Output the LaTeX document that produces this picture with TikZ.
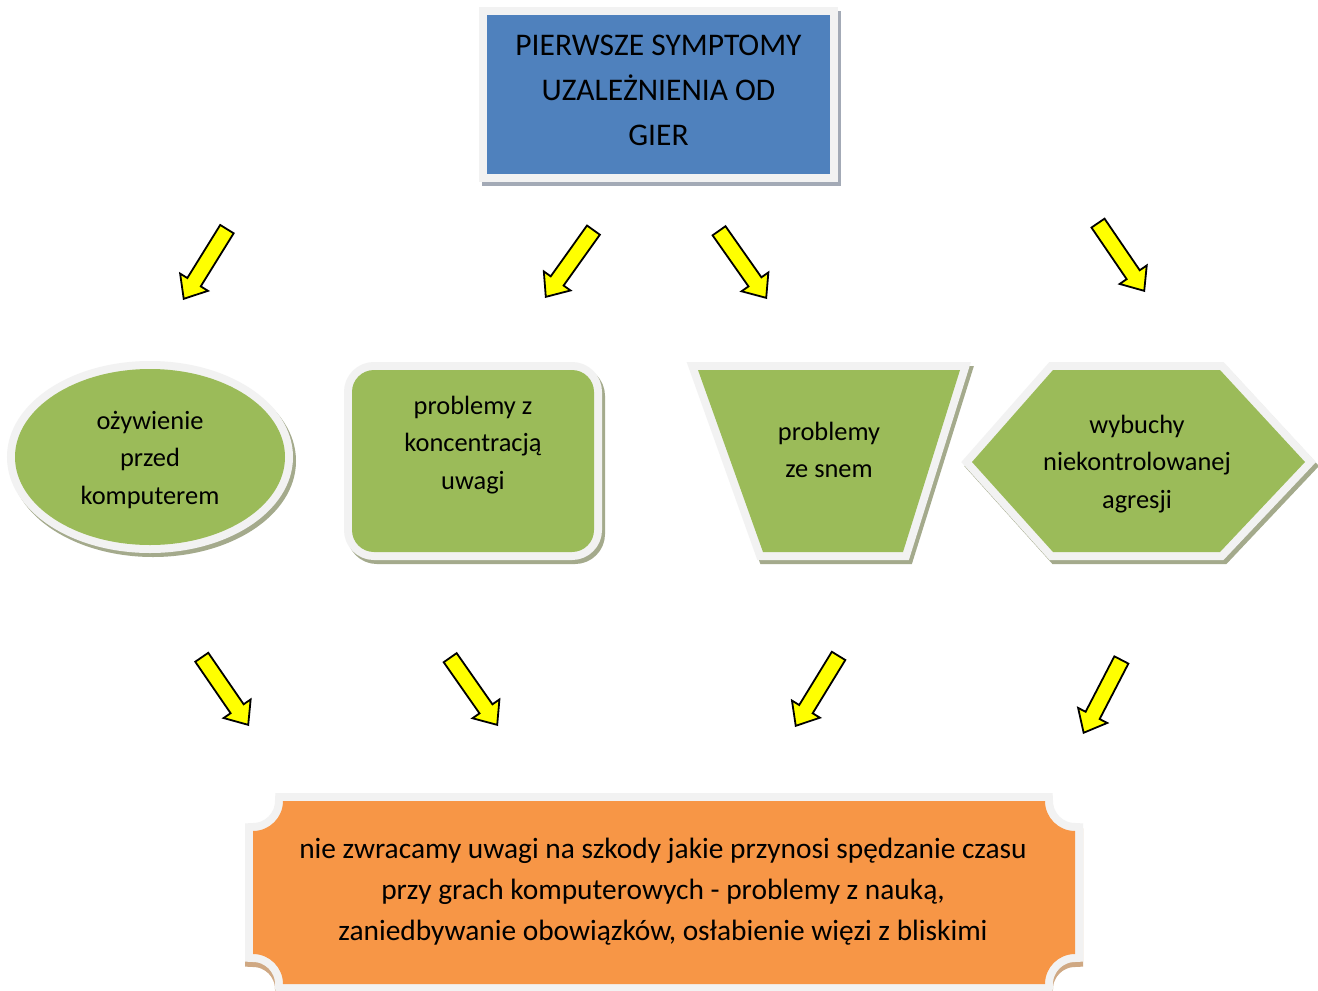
\documentclass[tikz,border=0pt]{standalone}
\usepackage{fontspec}
\setmainfont{Carlito}
\usetikzlibrary{shapes.arrows}
\definecolor{bluefill}{HTML}{4F81BD}
\definecolor{greenfill}{HTML}{9BBB59}
\definecolor{orangefill}{HTML}{F79646}
\definecolor{rimgray}{HTML}{F2F2F2}
\definecolor{shadowblue}{HTML}{A3AAB6}
\definecolor{shadowgreen}{HTML}{A4AA8C}
\definecolor{shadoworange}{HTML}{CFA883}
\definecolor{arrowyellow}{HTML}{FFFF00}
\begin{document}
\begin{tikzpicture}[x=1pt,y=-1pt,
  rim/.style={draw=rimgray, fill=rimgray, line width=16pt, line join=miter, miter limit=10},
  shadowed/.style={draw=#1, fill=#1, line width=16pt, line join=miter, miter limit=10},
  arr/.style={single arrow, draw=black, line width=1.8pt, fill=arrowyellow,
    minimum height=82pt, minimum width=31pt, inner xsep=0pt, inner ysep=7pt,
    single arrow head extend=8.5pt, single arrow tip angle=80, anchor=tip},
  toptext/.style={font=\fontsize{31.5}{45}\selectfont, align=center, text=black},
  midtext/.style={font=\fontsize{26.4}{37.5}\selectfont, align=center, text=black},
  bottext/.style={font=\fontsize{29.4}{41}\selectfont, align=center, text=black}
]
\useasboundingbox (0,0) rectangle (1318,991);
\fill[white] (0,0) rectangle (1318,991);

% top box
\path[shadowed=shadowblue, shift={(3,4)}] (487,15) rectangle (830,174);
\path[rim] (487,15) rectangle (830,174);
\fill[bluefill] (487,15) rectangle (830,174);
\node[toptext] (top) at (658.5,90) {PIERWSZE SYMPTOMY\\UZALEŻNIENIA OD\\GIER};

% ellipse
\path[shadowed=shadowgreen, shift={(3,4)}] (150,457) ellipse [x radius=135pt, y radius=88pt];
\path[rim] (150,457) ellipse [x radius=135pt, y radius=88pt];
\fill[greenfill] (150,457) ellipse [x radius=135pt, y radius=88pt];
\node[midtext] (ozy) at (150,459.5) {ożywienie\\przed\\komputerem};

% rounded rectangle
\path[shadowed=shadowgreen, rounded corners=22pt, shift={(3,4)}] (352,370) rectangle (594,552);
\path[rim, rounded corners=22pt] (352,370) rectangle (594,552);
\fill[greenfill, rounded corners=22pt] (352,370) rectangle (594,552);
\node[midtext] (konc) at (473,445) {problemy z\\koncentracją\\uwagi};

% trapezoid
\path[shadowed=shadowgreen, shift={(3,4)}] (698,370) -- (960,370) -- (903,552) -- (763,552) -- cycle;
\path[rim] (698,370) -- (960,370) -- (903,552) -- (763,552) -- cycle;
\fill[greenfill] (698,370) -- (960,370) -- (903,552) -- (763,552) -- cycle;
\node[midtext] (sen) at (829,450) {problemy\\ze snem};

% hexagon
\path[shadowed=shadowgreen, shift={(3,4)}] (972,462) -- (1053,370) -- (1220,370) -- (1305,462) -- (1220,552) -- (1053,552) -- cycle;
\path[rim] (972,462) -- (1053,370) -- (1220,370) -- (1305,462) -- (1220,552) -- (1053,552) -- cycle;
\fill[greenfill] (972,462) -- (1053,370) -- (1220,370) -- (1305,462) -- (1220,552) -- (1053,552) -- cycle;
\node[midtext] (agr) at (1137,464) {wybuchy\\niekontrolowanej\\agresji};

% bottom box
\path[shadowed=shadoworange, shift={(0,5)}] (283,801) -- (1045,801) arc[start angle=180, end angle=90, radius=30] -- (1075,954) arc[start angle=270, end angle=180, radius=30] -- (283,984) arc[start angle=0, end angle=-90, radius=30] -- (253,831) arc[start angle=90, end angle=0, radius=30] -- cycle;
\path[rim] (283,801) -- (1045,801) arc[start angle=180, end angle=90, radius=30] -- (1075,954) arc[start angle=270, end angle=180, radius=30] -- (283,984) arc[start angle=0, end angle=-90, radius=30] -- (253,831) arc[start angle=90, end angle=0, radius=30] -- cycle;
\fill[orangefill] (283,801) -- (1045,801) arc[start angle=180, end angle=90, radius=30] -- (1075,954) arc[start angle=270, end angle=180, radius=30] -- (283,984) arc[start angle=0, end angle=-90, radius=30] -- (253,831) arc[start angle=90, end angle=0, radius=30] -- cycle;
\node[bottext] (skut) at (663,892) {nie zwracamy uwagi na szkody jakie przynosi spędzanie czasu\\przy grach komputerowych - problemy z nauką,\\zaniedbywanie obowiązków, osłabienie więzi z bliskimi};

% arrows (placed by their tips)
\node[arr, rotate=238.2] (a1) at (183,300) {};
\node[arr, rotate=234.5] (a2) at (545,298) {};
\node[arr, rotate=305.1] (a3) at (767,299) {};
\node[arr, rotate=304.3] (a4) at (1145,292) {};
\node[arr, rotate=304.5] (a5) at (249,726) {};
\node[arr, rotate=305] (a6) at (498,726) {};
\node[arr, rotate=238.5] (a7) at (795,727) {};
\node[arr, rotate=242.6] (a8) at (1083,734) {};
\end{tikzpicture}
\end{document}
